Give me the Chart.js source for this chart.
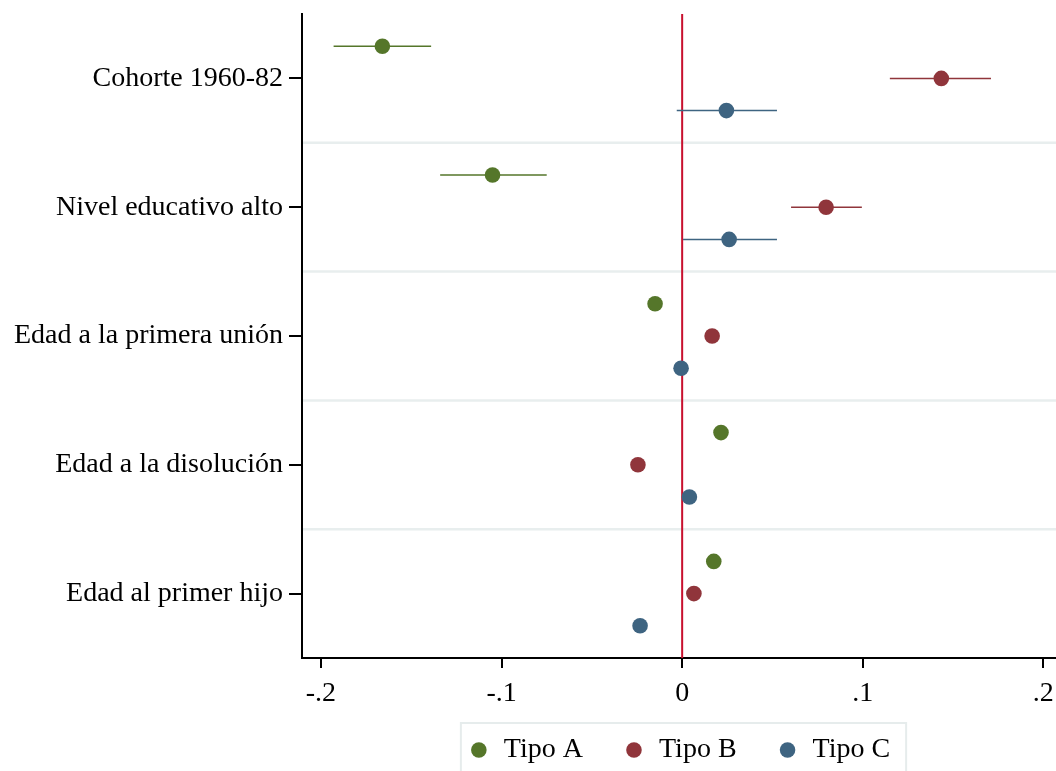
<!DOCTYPE html>
<html>
<head>
<meta charset="utf-8">
<script src="https://cdn.jsdelivr.net/npm/chart.js@4"></script>
<style>
  html, body { margin: 0; padding: 0; background: #fff; }
  #wrap { width: 1056px; height: 771px; }
</style>
</head>
<body>
<div id="wrap"><canvas id="chart" width="1056" height="771"></canvas></div>
<script>
// categorías (de arriba hacia abajo)
const categories = [
  "Cohorte 1960-82",
  "Nivel educativo alto",
  "Edad a la primera unión",
  "Edad a la disolución",
  "Edad al primer hijo"
];

// coeficientes e intervalos de confianza por tipo
const tipoA    = [-0.166, -0.105, -0.015, 0.0215, 0.0175];
const tipoA_lo = [-0.193, -0.134, null, null, null];
const tipoA_hi = [-0.139, -0.075, null, null, null];

const tipoB    = [0.1435, 0.0797, 0.0166, -0.0245, 0.0065];
const tipoB_lo = [0.115, 0.0603, null, null, null];
const tipoB_hi = [0.171, 0.0995, null, null, null];

const tipoC    = [0.0245, 0.026, -0.0006, 0.004, -0.0233];
const tipoC_lo = [-0.003, 0.0005, null, null, null];
const tipoC_hi = [0.0525, 0.0525, null, null, null];

const xTicks = [-0.2, -0.1, 0, 0.1, 0.2];

const FONT = "'Liberation Serif', 'Times New Roman', serif";
const colors = { A: "#55762a", B: "#90353b", C: "#3e6481" };

function pointData(vals, shift) {
  return vals.map((v, i) => ({ x: v, y: i + shift }));
}

function fmtTick(v) {
  if (Math.abs(v) < 1e-9) return "0";
  return (v < 0 ? "-" : "") + Math.abs(v).toFixed(1).replace(/^0/, "");
}

const series = [
  { label: "Tipo A", vals: tipoA, lo: tipoA_lo, hi: tipoA_hi, color: colors.A, shift: 0.25 },
  { label: "Tipo B", vals: tipoB, lo: tipoB_lo, hi: tipoB_hi, color: colors.B, shift: 0.5 },
  { label: "Tipo C", vals: tipoC, lo: tipoC_lo, hi: tipoC_hi, color: colors.C, shift: 0.75 }
];

const datasets = [];
series.forEach(s => {
  datasets.push({
    type: "scatter",
    label: s.label,
    data: pointData(s.vals, s.shift),
    backgroundColor: s.color,
    borderWidth: 0,
    pointRadius: 7.8,
    pointStyle: "circle",
    order: 0
  });
});
// un segmento por intervalo de confianza
series.forEach(s => {
  s.lo.forEach((l, i) => {
    if (l === null || s.hi[i] === null) return;
    datasets.push({
      type: "line",
      data: [{ x: l, y: i + s.shift }, { x: s.hi[i], y: i + s.shift }],
      borderColor: s.color,
      borderWidth: 1.5,
      pointRadius: 0,
      order: 1
    });
  });
});
// línea de referencia en cero
datasets.push({
  type: "line",
  data: [{ x: 0, y: 0 }, { x: 0, y: categories.length }],
  borderColor: "#c8102e",
  borderWidth: 2,
  pointRadius: 0,
  order: 2
});

// separadores entre filas
const rowSeparators = {
  id: "rowSeparators",
  beforeDatasetsDraw(chart) {
    const { ctx, chartArea, scales } = chart;
    ctx.save();
    ctx.strokeStyle = "#e8eeee";
    ctx.lineWidth = 2.5;
    for (let i = 1; i < categories.length; i++) {
      const y = scales.y.getPixelForValue(i);
      ctx.beginPath();
      ctx.moveTo(chartArea.left + 1, y);
      ctx.lineTo(chartArea.right, y);
      ctx.stroke();
    }
    ctx.restore();
  }
};

// sube la leyenda un poco (se solapa con el espacio bajo el eje x)
const legendShift = {
  id: "legendShift",
  afterLayout(chart) {
    const lg = chart.legend;
    if (!lg) return;
    lg.top -= 18;
    lg.bottom -= 18;
  }
};

// marco alrededor de la leyenda
const legendFrame = {
  id: "legendFrame",
  afterDraw(chart) {
    const boxes = chart.legend && chart.legend.legendHitBoxes;
    if (!boxes || !boxes.length) return;
    const first = boxes[0], last = boxes[boxes.length - 1];
    const ctx = chart.ctx;
    ctx.save();
    ctx.strokeStyle = "#e6ecec";
    ctx.lineWidth = 2;
    ctx.strokeRect(first.left - 7, first.top - 13, last.left + last.width + 16 - (first.left - 7), 80);
    ctx.restore();
  }
};

new Chart(document.getElementById("chart"), {
  type: "scatter",
  data: { datasets },
  options: {
    responsive: false,
    animation: false,
    layout: { autoPadding: false, padding: { top: 14, right: 0, left: 0, bottom: -21 } },
    plugins: {
      tooltip: { enabled: false },
      legend: {
        position: "bottom",
        fullSize: false,
        labels: {
          usePointStyle: true,
          boxWidth: 22,
          boxHeight: 11,
          padding: 40,
          color: "#000",
          font: { family: FONT, size: 28 },
          filter: item => !!item.text
        }
      }
    },
    scales: {
      x: {
        type: "linear",
        min: -0.2105,
        max: 0.207,
        afterBuildTicks: scale => { scale.ticks = xTicks.map(v => ({ value: v })); },
        afterFit: scale => {
          scale.height = 56;
          scale.paddingLeft = 0;
          scale.paddingRight = 0;
        },
        ticks: {
          color: "#000",
          padding: 9,
          maxRotation: 0,
          autoSkip: false,
          font: { family: FONT, size: 28 },
          callback: v => fmtTick(v)
        },
        grid: { drawOnChartArea: false, tickLength: 10, color: "#000", lineWidth: 2 },
        border: { color: "#000", width: 2 }
      },
      y: {
        type: "linear",
        reverse: true,
        min: 0,
        max: categories.length,
        afterBuildTicks: scale => {
          scale.ticks = categories.map((c, i) => ({ value: i + 0.5 }));
        },
        afterFit: scale => {
          scale.width = 302;
          scale.paddingTop = 0;
          scale.paddingBottom = 0;
        },
        ticks: {
          color: "#000",
          padding: 6,
          autoSkip: false,
          font: { family: FONT, size: 28 },
          callback: v => categories[Math.round(v - 0.5)]
        },
        grid: { drawOnChartArea: false, tickLength: 13, color: "#000", lineWidth: 2 },
        border: { color: "#000", width: 2 }
      }
    }
  },
  plugins: [rowSeparators, legendShift, legendFrame]
});
</script>
</body>
</html>
